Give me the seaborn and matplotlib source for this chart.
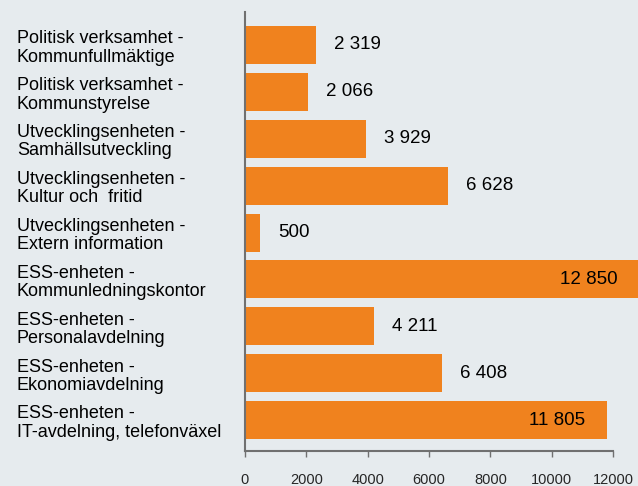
import matplotlib
matplotlib.use("Agg")
import matplotlib.pyplot as plt
import matplotlib.transforms as mtransforms
import seaborn as sns
import pandas as pd

categories = [
    "Politisk verksamhet -\nKommunfullmäktige",
    "Politisk verksamhet -\nKommunstyrelse",
    "Utvecklingsenheten -\nSamhällsutveckling",
    "Utvecklingsenheten -\nKultur och  fritid",
    "Utvecklingsenheten -\nExtern information",
    "ESS-enheten -\nKommunledningskontor",
    "ESS-enheten -\nPersonalavdelning",
    "ESS-enheten -\nEkonomiavdelning",
    "ESS-enheten -\nIT-avdelning, telefonväxel",
]
values = [2319, 2066, 3929, 6628, 500, 12850, 4211, 6408, 11805]
xticks = [0, 2000, 4000, 6000, 8000, 10000, 12000]

bg = "#e6ebee"
orange = "#f0821e"

sns.set_style("white")
plt.rcParams["font.family"] = ["Liberation Sans", "DejaVu Sans"]

df = pd.DataFrame({"enhet": categories, "kostnad": values})

fig = plt.figure(figsize=(6.38, 4.86), dpi=100, facecolor=bg)
ax = fig.add_axes([0.384, 0.072, 0.577, 0.903])
ax.set_facecolor(bg)

sns.barplot(data=df, x="kostnad", y="enhet", orient="h", color=orange,
            saturation=1, width=0.81, linewidth=0, ax=ax)
for p in ax.patches:
    p.set_clip_on(False)

ax.set_xlim(0, 12000)
ax.set_ylim(8.66, -0.70)
ax.set_xlabel("")
ax.set_ylabel("")

# value labels: outside the bar, or inside for the long ones
for i, v in enumerate(values):
    txt = f"{v:,}".replace(",", " ")
    if v > 10000:
        ax.annotate(txt, (v, i), xytext=(-22, 0), textcoords="offset pixels",
                    ha="right", va="center", fontsize=13.5, color="black",
                    annotation_clip=False)
    else:
        ax.annotate(txt, (v, i), xytext=(18, 0), textcoords="offset pixels",
                    ha="left", va="center", fontsize=13.5, color="black")

# category labels, left aligned at the figure edge, a bit below bar centre
ax.set_yticklabels([])
ax.tick_params(axis="y", length=0)
lab_tr = mtransforms.blended_transform_factory(fig.transFigure, ax.transData)
lab_tr = lab_tr + mtransforms.ScaledTranslation(0, -3 / 100, fig.dpi_scale_trans)
for i, c in enumerate(categories):
    ax.text(17 / 638, i, c, transform=lab_tr, ha="left", va="center",
            fontsize=13, linespacing=1.1, color="black")

ax.set_xticks(xticks)
ax.set_xticklabels([str(t) for t in xticks], fontsize=10.5)
ax.tick_params(axis="x", direction="out", length=4, width=1, color="#707070",
               pad=12, bottom=True)

for s in ["top", "right"]:
    ax.spines[s].set_visible(False)
for s in ["left", "bottom"]:
    ax.spines[s].set_color("#707070")
    ax.spines[s].set_linewidth(1.5)

fig.savefig("out.png", dpi=100, facecolor=bg)
